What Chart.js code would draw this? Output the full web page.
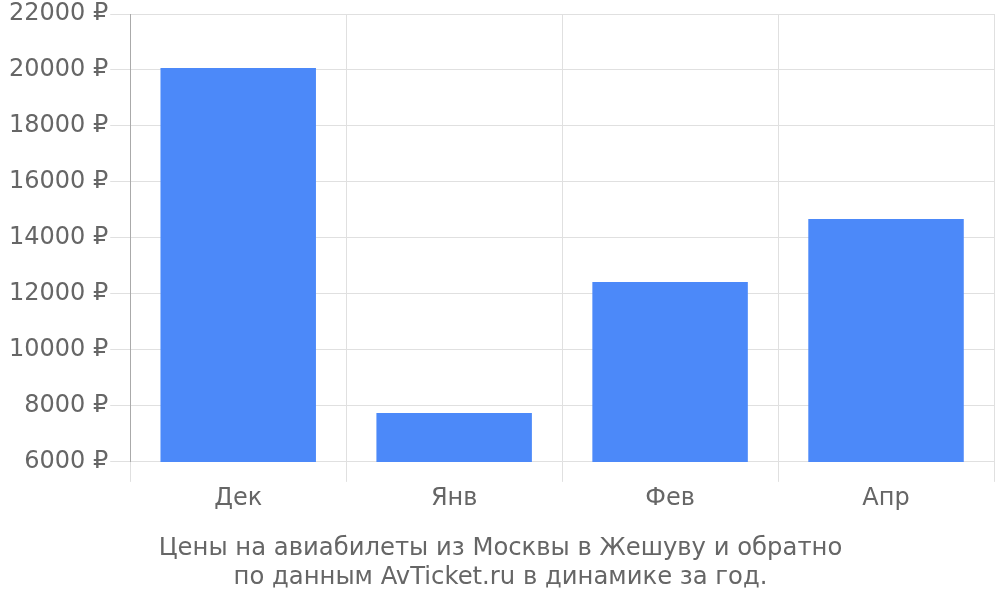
<!DOCTYPE html>
<html>
<head>
<meta charset="utf-8">
<script src="https://cdn.jsdelivr.net/npm/chart.js@4/dist/chart.umd.min.js"></script>
<style>
  html, body { margin:0; padding:0; background:#fff; }
  #wrap { width:1000px; height:600px; }
</style>
</head>
<body>
<div id="wrap"><canvas id="chart"></canvas></div>
<script>
// prices by month
const months = ['Дек', 'Янв', 'Фев', 'Апр'];
const prices = [20070, 7750, 12430, 14680];
const yTicks = { min: 6000, max: 22000, step: 2000 };
const titleLines = ['Цены на авиабилеты из Москвы в Жешуву и обратно', 'по данным AvTicket.ru в динамике за год.'];

Chart.defaults.font.family = '"DejaVu Sans", sans-serif';
Chart.defaults.color = '#666';

new Chart(document.getElementById('chart').getContext('2d'), {
  type: 'bar',
  data: {
    labels: months,
    datasets: [{ data: prices, backgroundColor: '#4c89f9', borderWidth: 0 }]
  },
  options: {
    responsive: true,
    maintainAspectRatio: false,
    animation: false,
    layout: { padding: { left: 7, right: 6, top: 0, bottom: 8 } },
    plugins: {
      legend: { display: false },
      tooltip: { enabled: false },
      title: {
        display: true,
        position: 'bottom',
        text: titleLines,
        color: '#666',
        font: { size: 24.3, weight: 'normal' },
        lineHeight: 1.2,
        padding: { top: 19, bottom: 0 }
      }
    },
    scales: {
      x: {
        grid: { color: '#e0e0e0', tickLength: 20 },
        border: { color: '#e0e0e0' },
        ticks: { font: { size: 24 }, color: '#666', padding: 2 }
      },
      y: {
        min: yTicks.min,
        max: yTicks.max,
        grid: { color: '#e0e0e0', tickLength: 20 },
        border: { color: '#aaa' },
        ticks: {
          stepSize: yTicks.step,
          font: { size: 24, lineHeight: 1.0 },
          color: '#666',
          padding: 2,
          callback: v => v + ' ₽'
        }
      }
    }
  }
});
</script>
</body>
</html>
